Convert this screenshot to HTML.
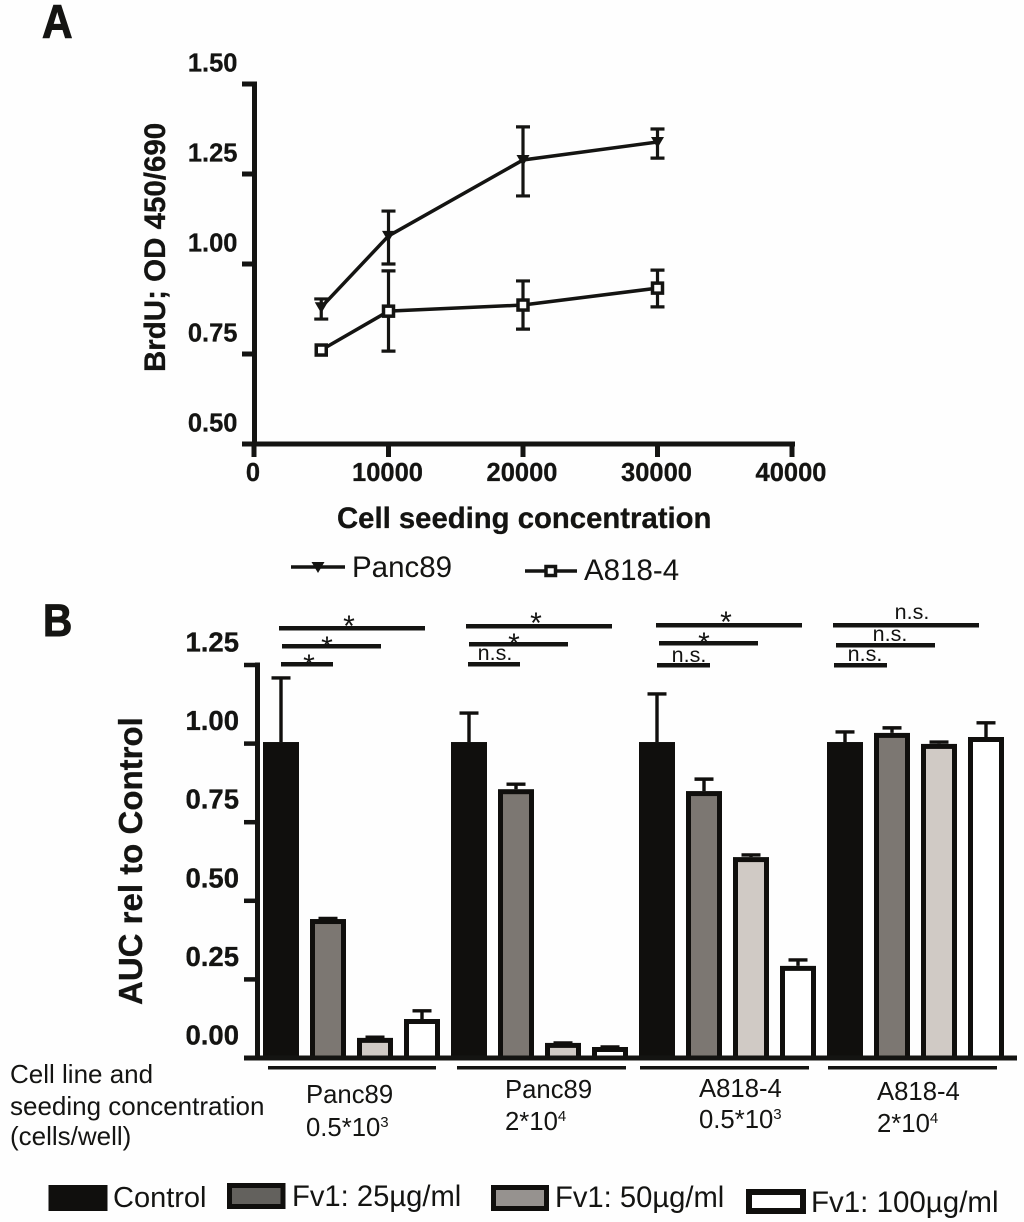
<!DOCTYPE html>
<html lang="en">
<head>
<meta charset="utf-8">
<title>BrdU proliferation and AUC charts</title>
<style>
html,body{margin:0;padding:0;background:#fefefe;}
svg{display:block;}
text{font-family:"Liberation Sans",Arial,sans-serif;fill:#141412;}
.b{font-weight:bold;}
</style>
</head>
<body>
<svg id="fig" xmlns="http://www.w3.org/2000/svg" width="1024" height="1222" viewBox="0 0 1024 1222">
  <rect x="0" y="0" width="1024" height="1222" fill="#fefefe"/>

  <text class="b" transform="translate(42,38) scale(.9,1)" font-size="47" stroke="#141412" stroke-width="1">A</text>
  <text class="b" transform="translate(43,636) scale(.9,1)" font-size="45" stroke="#141412" stroke-width="1">B</text>

  <g id="chartA"></g>
  <text class="b" font-size="29.5" stroke="#141412" stroke-width=".3" transform="translate(165,372) rotate(-90)">BrdU; OD 450/690</text>
  <text class="b" font-size="29.3" stroke="#141412" stroke-width=".3" x="337" y="528">Cell seeding concentration</text>

  <g>
    <line x1="291" y1="567" x2="345" y2="567" stroke="#141412" stroke-width="3.5"/>
    <path d="M311.5 562h13l-6.5 11z" fill="#141412"/>
    <text x="352" y="577" font-size="29.5">Panc89</text>
  </g>
  <g>
    <line x1="525" y1="571" x2="577" y2="571" stroke="#141412" stroke-width="3.5"/>
    <rect x="546" y="566.5" width="9.5" height="9" fill="#fefefe" stroke="#141412" stroke-width="3.5"/>
    <text x="584" y="580" font-size="29.5">A818-4</text>
  </g>

  <g id="chartB"></g>
  <text class="b" font-size="33" stroke="#141412" stroke-width=".3" transform="translate(142,1005) rotate(-90)">AUC rel to Control</text>

  <g fill="#141412">
    <rect x="279" y="626" width="146" height="4.5"/>
    <rect x="282" y="644" width="99" height="4.5"/>
    <rect x="281" y="662" width="52" height="4.5"/>
    <text x="349" y="636" font-size="30" text-anchor="middle">*</text>
    <text x="327" y="657" font-size="30" text-anchor="middle">*</text>
    <text x="309" y="675" font-size="30" text-anchor="middle">*</text>
  </g>
  <g fill="#141412">
    <rect x="466" y="624" width="146" height="4.5"/>
    <rect x="469" y="642" width="99" height="4.5"/>
    <rect x="468" y="662" width="52" height="4.5"/>
    <text x="536" y="633" font-size="30" text-anchor="middle">*</text>
    <text x="514" y="654" font-size="30" text-anchor="middle">*</text>
    <text x="495" y="660" font-size="21.5" text-anchor="middle">n.s.</text>
  </g>
  <g fill="#141412">
    <rect x="656" y="623" width="146" height="4.5"/>
    <rect x="659" y="641" width="99" height="4.5"/>
    <rect x="657" y="663" width="53" height="4.5"/>
    <text x="726" y="632" font-size="30" text-anchor="middle">*</text>
    <text x="704" y="653" font-size="30" text-anchor="middle">*</text>
    <text x="689" y="662" font-size="21.5" text-anchor="middle">n.s.</text>
  </g>
  <g fill="#141412">
    <rect x="833" y="623" width="146" height="4.5"/>
    <rect x="836" y="643" width="99" height="4.5"/>
    <rect x="834" y="663" width="53" height="4.5"/>
    <text x="912" y="619" font-size="21.5" text-anchor="middle">n.s.</text>
    <text x="890" y="641" font-size="21.5" text-anchor="middle">n.s.</text>
    <text x="865" y="661" font-size="21.5" text-anchor="middle">n.s.</text>
  </g>

  <g fill="#141412">
    <rect x="268" y="1066" width="168" height="3.5"/>
    <rect x="457" y="1066" width="169" height="3.5"/>
    <rect x="640" y="1066" width="169" height="3.5"/>
    <rect x="828" y="1066" width="169" height="3.5"/>
  </g>

  <g font-size="25.7">
    <text x="306" y="1103" font-size="25.7">Panc89</text>
    <text x="306" y="1136" font-size="25.7">0.5*10<tspan font-size="15" dy="-9">3</tspan></text>
    <text x="505" y="1098" font-size="25.7">Panc89</text>
    <text x="505" y="1130" font-size="25.7">2*10<tspan font-size="15" dy="-9">4</tspan></text>
    <text x="699" y="1097" font-size="25.7">A818-4</text>
    <text x="699" y="1128" font-size="25.7">0.5*10<tspan font-size="15" dy="-9">3</tspan></text>
    <text x="877" y="1100" font-size="25.7">A818-4</text>
    <text x="877" y="1132" font-size="25.7">2*10<tspan font-size="15" dy="-9">4</tspan></text>
  </g>
  <g>
    <text x="10" y="1083" font-size="26">Cell line and</text>
    <text x="10" y="1115" font-size="26">seeding concentration</text>
    <text x="10" y="1145" font-size="26">(cells/well)</text>
  </g>

  <g>
    <rect x="48.5" y="1185" width="59" height="26" fill="#100f0d"/>
    <text x="113" y="1207" font-size="29">Control</text>
    <rect x="229.5" y="1185.5" width="53.5" height="21" fill="#63615d" stroke="#100f0d" stroke-width="5"/>
    <text x="292" y="1206" font-size="29.2">Fv1: 25µg/ml</text>
    <rect x="493.5" y="1187.5" width="53" height="21" fill="#96928f" stroke="#100f0d" stroke-width="5"/>
    <text x="555" y="1207" font-size="29.2">Fv1: 50µg/ml</text>
    <rect x="749" y="1192" width="54" height="19" fill="#fff" stroke="#100f0d" stroke-width="6"/>
    <text x="811" y="1212" font-size="29.5">Fv1: 100µg/ml</text>
  </g>
</svg>

<script>
// ---- Panel A data ----
const lineCategories = [5000, 10000, 20000, 30000];
const panc89Mean = [0.880, 1.078, 1.289, 1.339];
const panc89High = [0.903, 1.147, 1.381, 1.375];
const panc89Low = [0.847, 1.000, 1.189, 1.294];
const a818Mean = [0.761, 0.869, 0.886, 0.933];
const a818High = [0.761, 0.981, 0.953, 0.983];
const a818Low = [0.761, 0.758, 0.819, 0.881];
const lineYTicks = ["0.50", "0.75", "1.00", "1.25", "1.50"];
const lineXTicks = ["0", "10000", "20000", "30000", "40000"];

// ---- Panel B data ----
const barGroups = ["Panc89 0.5*10^3", "Panc89 2*10^4", "A818-4 0.5*10^3", "A818-4 2*10^4"];
const barSeriesNames = ["control", "fv1-25", "fv1-50", "fv1-100"];
const controlValues = [1.005, 1.005, 1.005, 1.005];
const fv25Values = [0.442, 0.855, 0.849, 1.034];
const fv50Values = [0.064, 0.048, 0.639, 0.999];
const fv100Values = [0.124, 0.035, 0.293, 1.021];
const controlErrTop = [1.209, 1.097, 1.158, 1.037];
const fv25ErrTop = [0.444, 0.871, 0.887, 1.050];
const fv50ErrTop = [0.066, 0.048, 0.646, 1.005];
const fv100ErrTop = [0.150, 0.035, 0.312, 1.066];
const barYTicks = ["0.00", "0.25", "0.50", "0.75", "1.00", "1.25"];

const NS = "http://www.w3.org/2000/svg";
const INK = "#141412";
const BARINK = "#100f0d";
function mk(parent, tag, attrs, txt) {
  const el = document.createElementNS(NS, tag);
  for (const k in attrs) el.setAttribute(k, attrs[k]);
  if (txt !== undefined) el.textContent = txt;
  parent.appendChild(el);
  return el;
}

// ---- Panel A axes ----
function ax(v) { return 254 + v * (792 - 254) / 40000; }
function ay(v) { return 444 - (v - 0.5) * 360; }
const gA = document.getElementById("chartA");

let el = mk(gA, "line", {x1: 254.5, y1: ay(1.5) - 2.5, x2: 254.5, y2: 446.5, stroke: INK, "stroke-width": 5});


el = mk(gA, "line", {x1: 242, y1: 444, x2: 795, y2: 444, stroke: INK, "stroke-width": 5});



lineYTicks.forEach(function (t) {
  const y = ay(parseFloat(t));
  const tick = mk(gA, "line", {x1: 242, y1: y, x2: 254, y2: y, stroke: INK, "stroke-width": 5});
  
  
  const lab = mk(gA, "text", {x: 237.5, y: y - 12.5, "text-anchor": "end", "font-size": 25.5, "font-weight": "bold", stroke: INK, "stroke-width": 0.3}, t);
  
  
});
lineXTicks.forEach(function (t) {
  const x = ax(parseFloat(t));
  const tick = mk(gA, "line", {x1: x, y1: 444, x2: x, y2: 457, stroke: INK, "stroke-width": 5});
  
  
  const lab = mk(gA, "text", {x: x - 1, y: 481, "text-anchor": "middle", "font-size": 25.5, "font-weight": "bold", stroke: INK, "stroke-width": 0.3}, t);
  
  
});

function drawSeries(name, mean, high, low, marker) {
  const g = mk(gA, "g", {});
  
  
  const pts = mean.map(function (v, i) { return ax(lineCategories[i]) + "," + ay(v); }).join(" ");
  const pl = mk(g, "polyline", {points: pts, fill: "none", stroke: INK, "stroke-width": 3.5});
  
  
  mean.forEach(function (v, i) {
    const x = ax(lineCategories[i]);
    if (high[i] !== low[i]) {
      const eb = mk(g, "path", {
        d: "M" + (x - 7) + " " + ay(high[i]) + "h14M" + x + " " + ay(high[i]) + "V" + ay(low[i]) + "M" + (x - 7) + " " + ay(low[i]) + "h14",
        fill: "none", stroke: INK, "stroke-width": 3.2
      });
      
      
    }
    let m;
    if (marker === "tri") {
      const y = ay(v);
      m = mk(g, "path", {d: "M" + (x - 6.5) + " " + (y - 5) + "h13l-6.5 11z", fill: INK});
    } else {
      m = mk(g, "rect", {x: x - 5, y: ay(v) - 5, width: 10, height: 10, fill: "#fefefe", stroke: INK, "stroke-width": 3.5});
    }
    
    
  });
}
drawSeries("panc89", panc89Mean, panc89High, panc89Low, "tri");
drawSeries("a818-4", a818Mean, a818High, a818Low, "sq");

// ---- Panel B axes ----
function by(v) { return 1058 - v * 314.4; }
function bx(groupIndex, seriesIndex) { return 263 + groupIndex * 188 + seriesIndex * 47; }
const BARW = 36;
const gB = document.getElementById("chartB");

const barFills = ["#100f0d", "#7c7772", "#d0cac5", "#ffffff"];
const allValues = [controlValues, fv25Values, fv50Values, fv100Values];
const allErrs = [controlErrTop, fv25ErrTop, fv50ErrTop, fv100ErrTop];

barGroups.forEach(function (groupName, gi) {
  barSeriesNames.forEach(function (sName, si) {
    const x = bx(gi, si);
    const top = by(allValues[si][gi]);
    const errY = by(allErrs[si][gi]);
    const cx = x + BARW / 2;
    const err = mk(gB, "path", {
      d: "M" + cx + " " + top + "V" + errY + "M" + (cx - 9.5) + " " + errY + "h19",
      fill: "none", stroke: BARINK, "stroke-width": 3.4
    });
    
    
    const bar = mk(gB, "rect", {
      x: x + 2.5, y: top + 2.5, width: BARW - 5, height: Math.max(0, 1058 - top - 2.5),
      fill: barFills[si], stroke: BARINK, "stroke-width": 5
    });
    
    
  });
});

el = mk(gB, "line", {x1: 257.5, y1: by(1.25) - 2.5, x2: 257.5, y2: 1060, stroke: INK, "stroke-width": 5});


el = mk(gB, "line", {x1: 244, y1: 1058, x2: 1017, y2: 1058, stroke: INK, "stroke-width": 5});



barYTicks.forEach(function (t) {
  const y = by(parseFloat(t));
  const tick = mk(gB, "line", {x1: 244, y1: y, x2: 257, y2: y, stroke: INK, "stroke-width": 4.5});
  
  
  const lab = mk(gB, "text", {x: 239, y: y - 13.5, "text-anchor": "end", "font-size": 27.5, "font-weight": "bold", stroke: INK, "stroke-width": 0.3}, t);
  
  
});
</script>
</body>
</html>
